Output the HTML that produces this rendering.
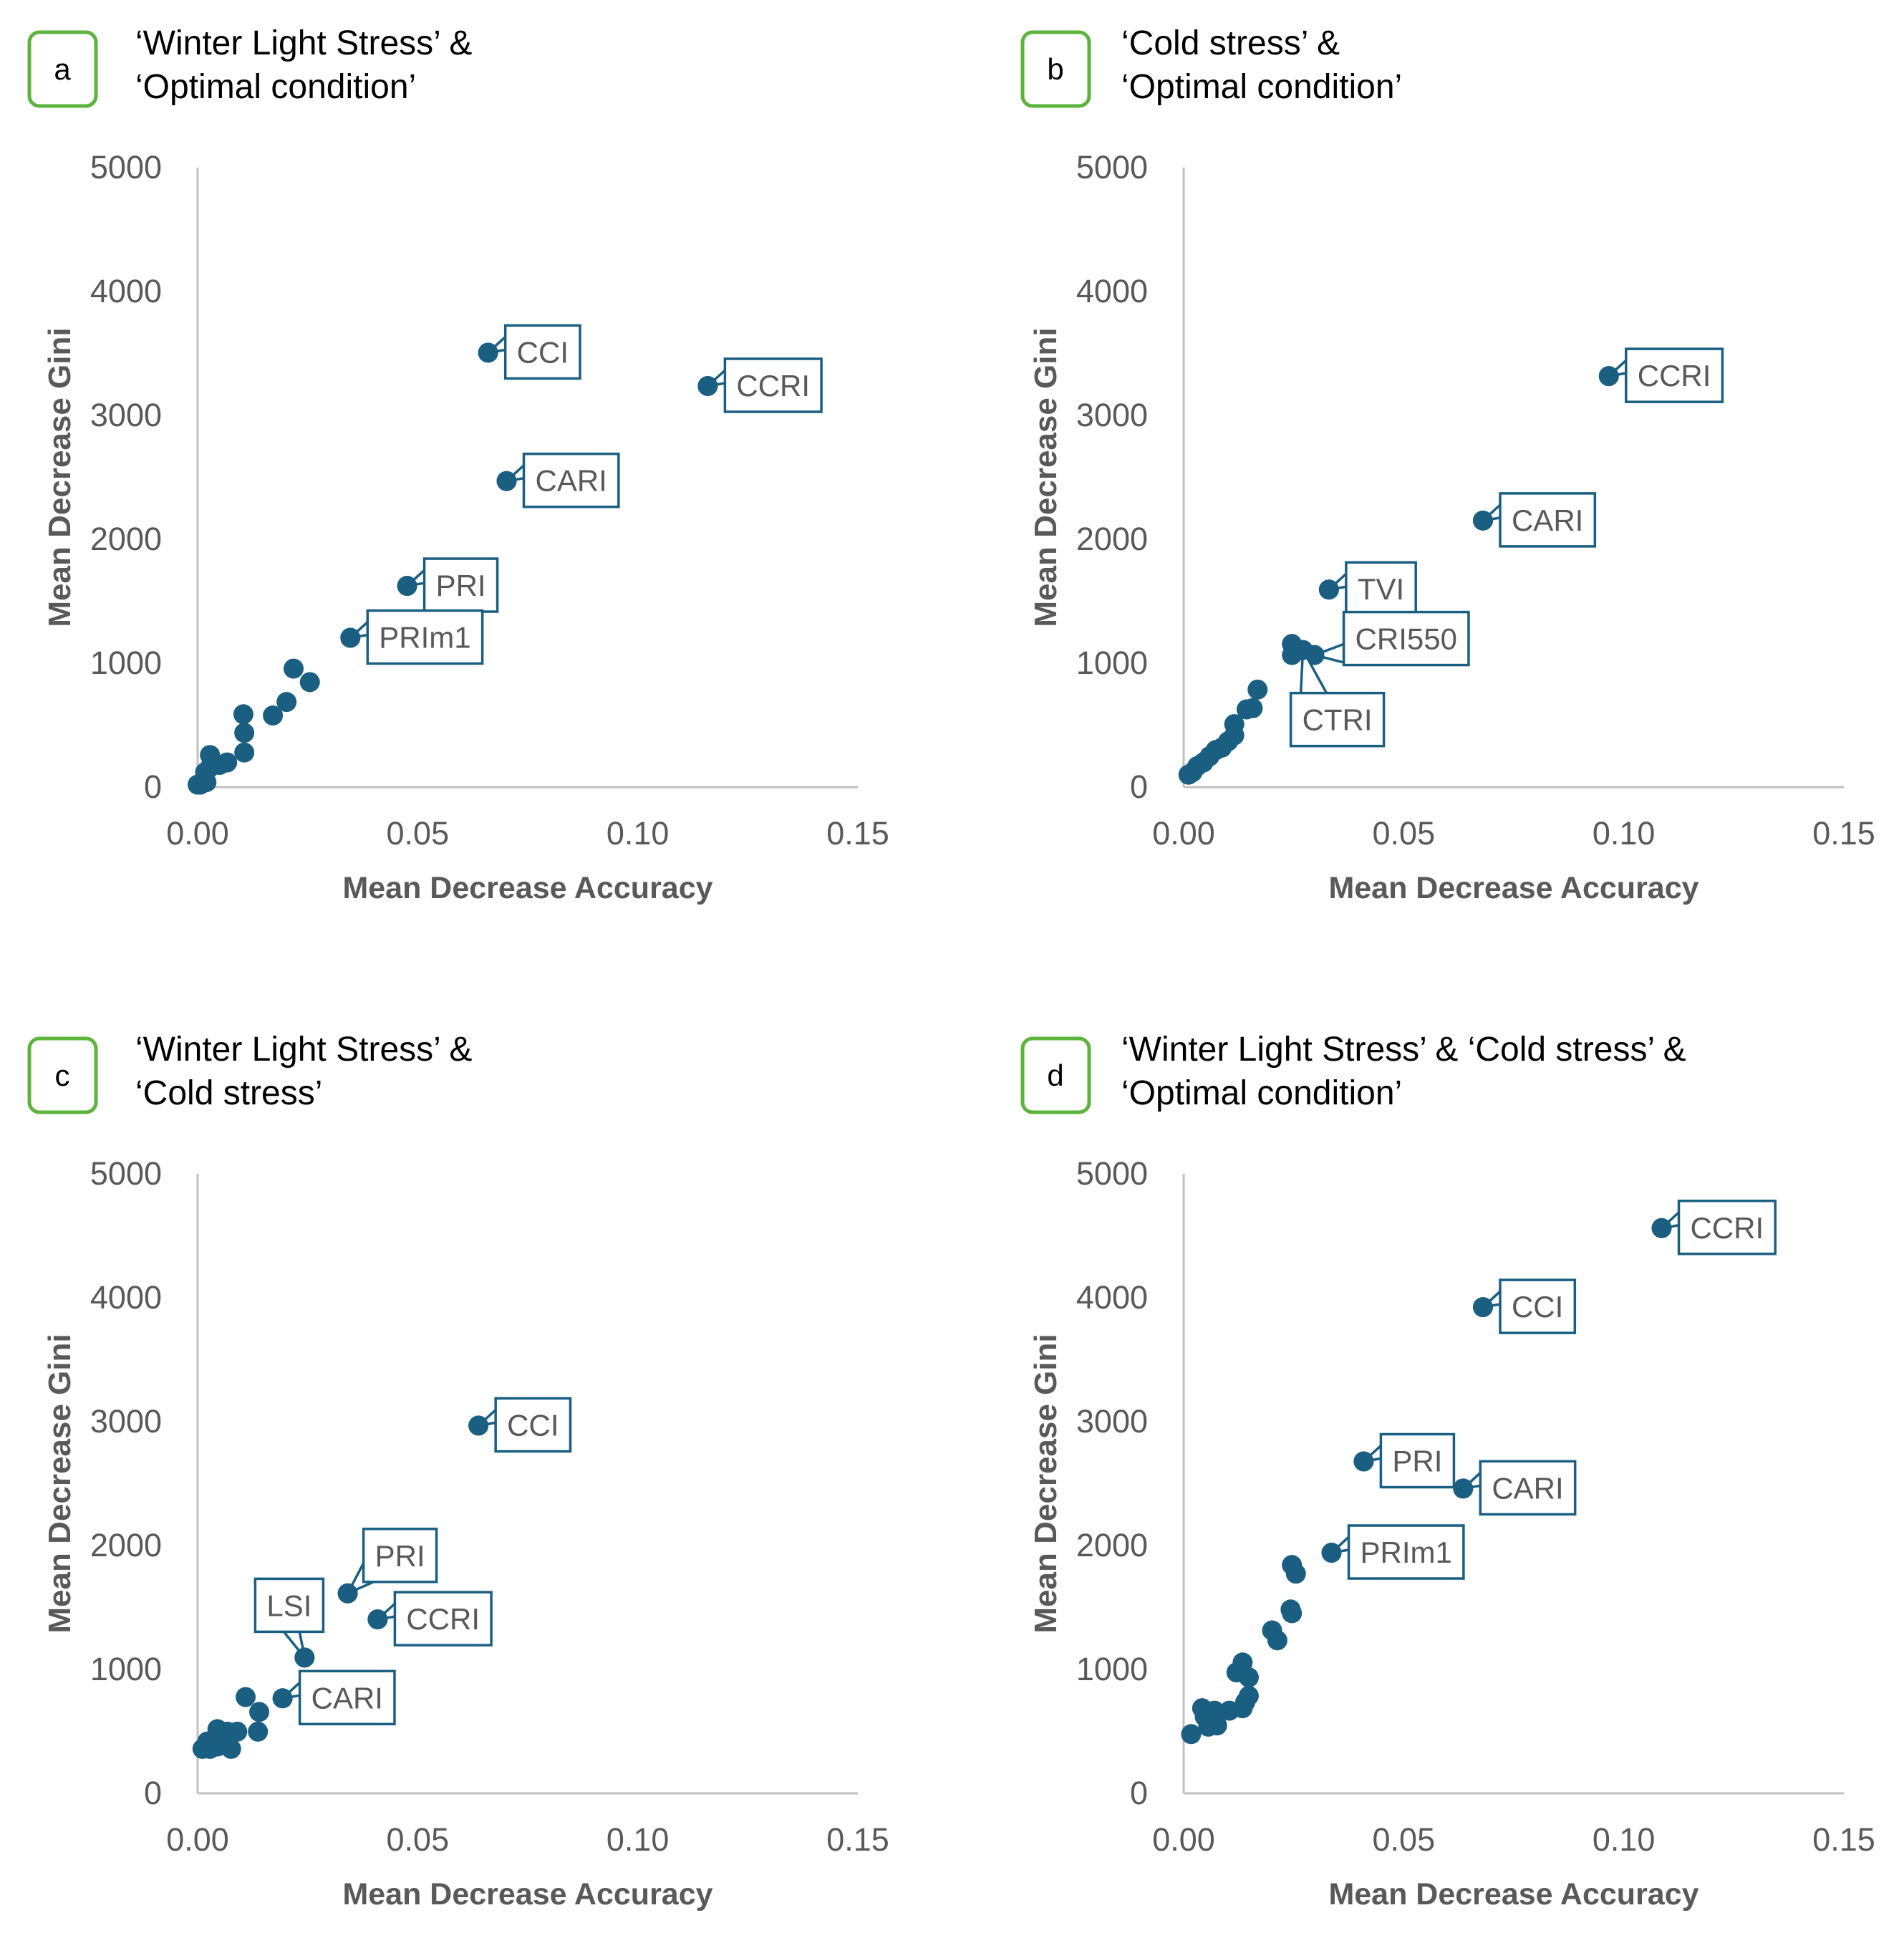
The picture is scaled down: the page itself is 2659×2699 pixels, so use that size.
<!DOCTYPE html>
<html><head><meta charset="utf-8"><style>
html,body{margin:0;padding:0;background:#fff;}
svg{display:block;font-family:"Liberation Sans",sans-serif;}
</style></head><body>
<svg id="fig" width="2659" height="2699" viewBox="0 0 2659 2699" xmlns="http://www.w3.org/2000/svg"></svg>
<script>
// ---- data ----
const xTicks = [0, 0.05, 0.10, 0.15];
const xTickLabels = ["0.00", "0.05", "0.10", "0.15"];
const yTicks = [0, 1000, 2000, 3000, 4000, 5000];
const yTickLabels = ["0", "1000", "2000", "3000", "4000", "5000"];

const aX = [0.066,0.1159,0.0702,0.0476,0.0347,0.0218,0.0255,0.0202,0.0171,0.0104,0.0106,0.0106,0.0028,0.0028,0.005,0.0067,0.0017,0.0006,0.002,0.0];
const aY = [3506,3237,2470,1624,1205,956,847,687,578,588,438,279,259,159,179,199,120,20,40,20];
const aLabels = ["CCI","CCRI","CARI","PRI","PRIm1","","","","","","","","","","","","","","",""];

const bX = [0.0966,0.068,0.033,0.0297,0.0271,0.0246,0.0246,0.0168,0.0157,0.0143,0.0115,0.0115,0.0101,0.0087,0.0073,0.0059,0.0045,0.0031,0.002,0.0011];
const bY = [3317,2151,1594,1066,1106,1155,1066,787,637,627,508,418,369,319,299,249,199,169,120,100];
const bLabels = ["CCRI","CARI","TVI","CRI550","CTRI","","","","","","","","","","","","","","",""];

const cX = [0.0638,0.0341,0.0409,0.0243,0.0193,0.0109,0.014,0.0137,0.009,0.0067,0.0045,0.0056,0.0076,0.0045,0.0022,0.0011,0.0028];
const cY = [2968,1614,1404,1096,767,777,657,498,498,498,518,458,359,378,418,359,359];
const cLabels = ["CCI","PRI","CCRI","LSI","CARI","","","","","","","","","","","",""];

const dX = [0.1086,0.068,0.0409,0.0635,0.0336,0.0246,0.0255,0.0243,0.0246,0.0201,0.0213,0.0134,0.012,0.0148,0.0148,0.014,0.0134,0.0104,0.007,0.0042,0.0048,0.0056,0.0076,0.0017];
const dY = [4562,3924,2679,2460,1942,1843,1773,1484,1454,1315,1235,1056,976,936,787,737,687,667,667,687,618,538,548,478];
const dLabels = ["CCRI","CCI","PRI","CARI","PRIm1","","","","","","","","","","","","","","","","","","",""];

// ---- layout ----
const NS = "http://www.w3.org/2000/svg";
const svg = document.getElementById('fig');
function mk(tag, attrs, parent){ const e=document.createElementNS(NS,tag); for(const k in attrs) e.setAttribute(k,attrs[k]); (parent||svg).appendChild(e); return e; }

const panels = [
 {id:'a', ox:0, oy:0, tx:0, x:aX, y:aY, l:aLabels, title:["\u2018Winter Light Stress\u2019 &","\u2018Optimal condition\u2019"]},
 {id:'b', ox:1377, oy:0, tx:10, x:bX, y:bY, l:bLabels, title:["\u2018Cold stress\u2019 &","\u2018Optimal condition\u2019"]},
 {id:'c', ox:0, oy:1405, tx:0, x:cX, y:cY, l:cLabels, title:["\u2018Winter Light Stress\u2019 &","\u2018Cold stress\u2019"]},
 {id:'d', ox:1377, oy:1405, tx:10, x:dX, y:dY, l:dLabels, title:["\u2018Winter Light Stress\u2019 & \u2018Cold stress\u2019 &","\u2018Optimal condition\u2019"]}
];
const place = {
 'b-CRI550':{dx:41,dy:-60,attach:'bottom'},
 'b-CTRI':{dx:-17,dy:60,attach:'top'},
 'c-LSI':{dx:-69,dy:-110,attach:'bottomMid'},
 'c-PRI':{dx:22,dy:-90,attach:'bottom'}
};
const COL = '#1a5f82', GRAY='#595959';

panels.forEach(p=>{
  const g = mk('g',{});
  
  
  const X0=276+p.ox, X1=1198+p.ox, Y0=1099+p.oy, Y1=234+p.oy;
  const sx = v => X0 + (v-0)/(0.15)*(X1-X0);
  const sy = v => Y0 - v/5000*(Y0-Y1);
  const tag = mk('rect',{x:41+p.ox+p.tx,y:45+p.oy,width:93,height:103,rx:14,fill:'#fff',stroke:'#5cb43c','stroke-width':5},g);
   
  const tt = mk('text',{x:87+p.ox+p.tx,y:111+p.oy,'font-size':42,'text-anchor':'middle',fill:'#000'},g); tt.textContent=p.id;
  p.title.forEach((t,i)=>{ const e=mk('text',{x:189+p.ox,y:76+p.oy+i*61,'font-size':48,fill:'#000'},g); e.textContent=t;
      });
  const ya = mk('line',{x1:X0,y1:Y1,x2:X0,y2:Y0,stroke:'#c0c0c0','stroke-width':3},g);
   
  const xa = mk('line',{x1:X0,y1:Y0,x2:X1,y2:Y0,stroke:'#c0c0c0','stroke-width':3},g);
   
  yTicks.forEach((v,i)=>{ const e=mk('text',{x:X0-50,y:sy(v)+15,'font-size':45,'text-anchor':'end',fill:GRAY},g); e.textContent=yTickLabels[i];
      });
  xTicks.forEach((v,i)=>{ const e=mk('text',{x:sx(v),y:Y0+80,'font-size':45,'text-anchor':'middle',fill:GRAY},g); e.textContent=xTickLabels[i];
      });
  const xt=mk('text',{x:737+p.ox,y:Y0+155,'font-size':43,'font-weight':'bold','text-anchor':'middle',fill:GRAY},g); xt.textContent='Mean Decrease Accuracy';
   
  const yt=mk('text',{x:0,y:0,'font-size':44,'font-weight':'bold','text-anchor':'middle',fill:GRAY,transform:`translate(${98+p.ox},${(Y0+Y1)/2}) rotate(-90)`},g); yt.textContent='Mean Decrease Gini';
   
  const order = p.x.map((_,i)=>i).reverse();
  order.forEach(i=>{ const c=mk('circle',{cx:sx(p.x[i]),cy:sy(p.y[i]),r:14,fill:COL},g);
      });
  p.l.forEach((lab,i)=>{ if(!lab) return;
    const cx=sx(p.x[i]), cy=sy(p.y[i]);
    const pl = place[p.id+'-'+lab] || {dx:24,dy:-38,attach:'left'};
    const lg = mk('g',{},g);
     
    const bx=cx+pl.dx, by=cy+pl.dy, h=74;
    const txt = mk('text',{x:0,y:0,'font-size':42,fill:GRAY},lg); txt.textContent=lab;
    const w = txt.getComputedTextLength()+32;
    txt.setAttribute('x',bx+16); txt.setAttribute('y',by+52);
    const rect = mk('rect',{x:bx,y:by,width:w,height:h,fill:'#fff',stroke:COL,'stroke-width':3.5},lg);
    lg.insertBefore(rect,txt);
    let pts;
    if(pl.attach==='left') pts=`${bx},${by+16} ${cx},${cy} ${bx},${by+34}`;
    else if(pl.attach==='bottom') pts=`${bx+2},${by+h-30} ${cx},${cy} ${bx+14},${by+h}`;
    else if(pl.attach==='top') pts=`${bx+14},${by} ${cx},${cy} ${bx+50},${by}`;
    else pts=`${bx+40},${by+h} ${cx},${cy} ${bx+62},${by+h}`;
    const pp=mk('polyline',{points:pts,fill:'#fff',stroke:COL,'stroke-width':3.5},lg);
    lg.insertBefore(pp,rect);
    mk('circle',{cx:cx,cy:cy,r:14,fill:COL},lg);
  });
});
</script>
</body></html>
